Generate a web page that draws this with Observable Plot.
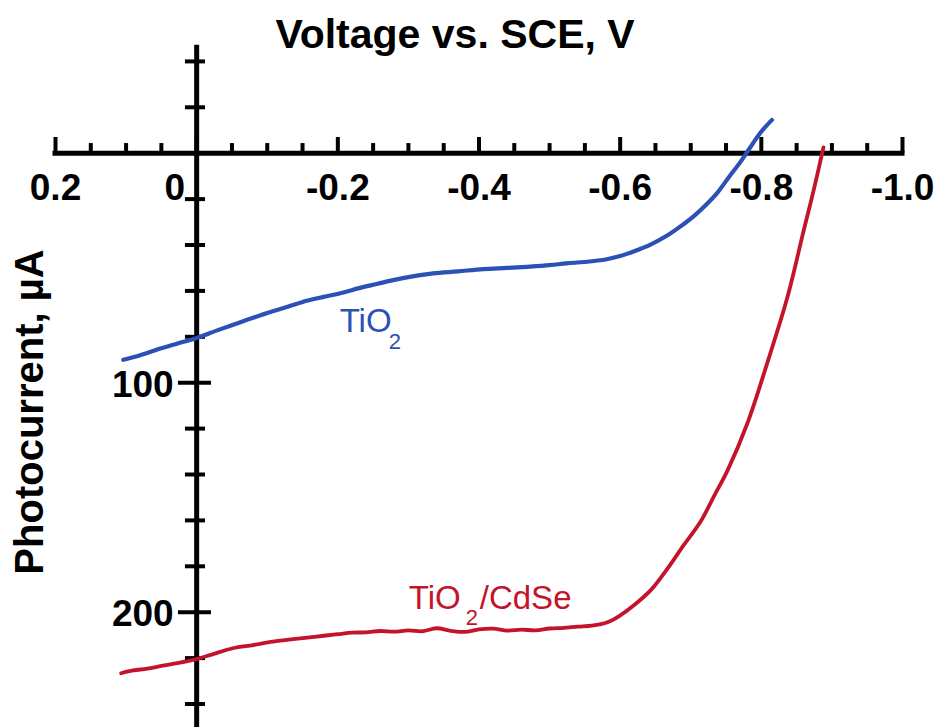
<!DOCTYPE html>
<html>
<head>
<meta charset="utf-8">
<script src="https://cdn.jsdelivr.net/npm/d3@7"></script>
<script src="https://cdn.jsdelivr.net/npm/@observablehq/plot@0.6"></script>
<style>
  html, body { margin: 0; padding: 0; background: #ffffff; }
  #chart svg { display: block; }
</style>
</head>
<body>
<div id="chart"></div>
<script>
// ---- Data ----
const tio2V = [0.104, 0.08, 0.05, 0.02, 0.0, -0.03, -0.066, -0.1, -0.13, -0.156, -0.18, -0.208, -0.23, -0.255, -0.28, -0.3, -0.335, -0.37, -0.406, -0.44, -0.468, -0.5, -0.524, -0.55, -0.581, -0.6, -0.619, -0.643, -0.666, -0.685, -0.704, -0.72, -0.737, -0.755, -0.77, -0.782, -0.799, -0.815];
const tio2I = [90, 88, 85, 82.3, 80.5, 77.1, 73.2, 69.6, 66.8, 64.3, 62.6, 60.7, 58.8, 57, 55.2, 54, 52.4, 51.5, 50.5, 50, 49.5, 48.8, 48, 47.4, 46.2, 44.8, 42.8, 39.8, 36, 32, 27.5, 23, 17.5, 10, 4, -1.5, -9, -14.5];

const cdseV = [0.107, 0.09, 0.07, 0.05, 0.03, 0.005, -0.02, -0.051, -0.08, -0.108, -0.14, -0.17, -0.2, -0.22, -0.24, -0.26, -0.28, -0.3, -0.32, -0.34, -0.36, -0.38, -0.4, -0.42, -0.44, -0.46, -0.48, -0.5, -0.52, -0.54, -0.56, -0.582, -0.6, -0.619, -0.643, -0.667, -0.69, -0.714, -0.733, -0.752, -0.78, -0.808, -0.837, -0.86, -0.874, -0.888];
const cdseI = [226.6, 225.4, 224.6, 223.4, 222.3, 220.8, 218.6, 215.7, 214.3, 212.8, 211.6, 210.6, 209.6, 208.9, 208.8, 208.2, 208.5, 207.9, 208.3, 207.0, 208.1, 208.6, 207.5, 207.2, 208.0, 207.6, 207.9, 207.1, 206.8, 206.3, 205.9, 204.4, 201.4, 197.1, 190.5, 181.0, 170.8, 160.5, 149.4, 138.3, 117.9, 91.8, 62.7, 33.7, 16.3, -2.5];

const xMajorTicks = [0.2, 0, -0.2, -0.4, -0.6, -0.8, -1.0];
const xMinorTicks = [0.15, 0.1, 0.05, -0.05, -0.1, -0.15, -0.25, -0.3, -0.35, -0.45, -0.5, -0.55, -0.65, -0.7, -0.75, -0.85, -0.9, -0.95];
const xTickLabels = ["0.2", "0", "-0.2", "-0.4", "-0.6", "-0.8", "-1.0"];
const yMajorTicks = [100, 200];
const yMinorTicks = [-40, -20, 20, 40, 60, 80, 120, 140, 160, 180, 220, 240];
const yTickLabels = ["100", "200"];

const xTitle = "Voltage vs. SCE, V";
const yTitle = "Photocurrent, µA";
const seriesNames = ["TiO", "TiO"];

// ---- Build tables ----
const tio2 = tio2V.map((v, i) => ({V: v, I: tio2I[i]}));
const cdse = cdseV.map((v, i) => ({V: v, I: cdseI[i]}));
const xLabels = xMajorTicks.map((v, i) => ({V: v, label: xTickLabels[i]}));
const yLabels = yMajorTicks.map((v, i) => ({I: v, label: yTickLabels[i]}));

const BLUE = "#2b50b6";
const RED = "#c3142b";
const FONT = "'Liberation Sans', Arial, Helvetica, sans-serif";

const plot = Plot.plot({
  width: 943,
  height: 727,
  marginTop: 0, marginRight: 0, marginBottom: 0, marginLeft: 0,
  x: {domain: [0.2, -1.0], range: [55, 902], axis: null},
  y: {domain: [0, 200], range: [152.7, 611.7], axis: null},
  style: {background: "#ffffff", fontFamily: FONT, color: "#000"},
  marks: [
    // axis lines
    Plot.ruleY([0], {x1: 0.2, x2: -1.0, stroke: "#000", strokeWidth: 5, strokeLinecap: "square"}),
    Plot.ruleX([0], {y1: -47, y2: 255, stroke: "#000", strokeWidth: 5}),
    // x ticks (upward)
    Plot.ruleX(xMajorTicks, {x: d => d, y1: 0, y2: -6.85, stroke: "#000", strokeWidth: 4}),
    Plot.ruleX(xMinorTicks, {x: d => d, y1: 0, y2: -4.2, stroke: "#000", strokeWidth: 4}),
    // y ticks (both sides)
    Plot.ruleY(yMajorTicks, {y: d => d, x1: 0.0258, x2: -0.021, stroke: "#000", strokeWidth: 4}),
    Plot.ruleY(yMinorTicks, {y: d => d, x1: 0.0159, x2: -0.0125, stroke: "#000", strokeWidth: 4}),
    // x tick labels
    Plot.text(xLabels.filter(d => d.V !== 0), {x: "V", y: 0, dy: 35, text: "label", fontSize: 37, fontWeight: "bold", fill: "#000"}),
    Plot.text(xLabels.filter(d => d.V === 0), {x: "V", y: 0, dy: 35, dx: -22, text: "label", fontSize: 37, fontWeight: "bold", fill: "#000"}),
    // y tick labels
    Plot.text(yLabels, {x: 0, y: "I", dx: -23, dy: 2, text: "label", textAnchor: "end", fontSize: 37, fontWeight: "bold", fill: "#000"}),
    // curves
    Plot.line(tio2, {x: "V", y: "I", curve: "catmull-rom", stroke: BLUE, strokeWidth: 4.2, strokeLinejoin: "round", strokeLinecap: "round"}),
    Plot.line(cdse, {x: "V", y: "I", curve: "catmull-rom", stroke: RED, strokeWidth: 3.8, strokeLinejoin: "round", strokeLinecap: "round"}),
    // series labels
    Plot.text([{V: -0.2026, I: 77.7}], {x: "V", y: "I", text: () => seriesNames[0], textAnchor: "start", lineAnchor: "bottom", fontSize: 33, fill: BLUE}),
    Plot.text([{V: -0.2026, I: 77.7}], {x: "V", y: "I", text: () => "2", dx: 49, dy: 17, textAnchor: "start", lineAnchor: "bottom", fontSize: 22, fill: BLUE}),
    Plot.text([{V: -0.3005, I: 198.6}], {x: "V", y: "I", text: () => seriesNames[1], textAnchor: "start", lineAnchor: "bottom", fontSize: 33, fill: RED}),
    Plot.text([{V: -0.3005, I: 198.6}], {x: "V", y: "I", text: () => "2", dx: 57, dy: 16, textAnchor: "start", lineAnchor: "bottom", fontSize: 22, fill: RED}),
    Plot.text([{V: -0.3005, I: 198.6}], {x: "V", y: "I", text: () => "/CdSe", dx: 71, textAnchor: "start", lineAnchor: "bottom", fontSize: 33, fill: RED}),
    // axis titles
    Plot.text([xTitle], {frameAnchor: "top", dx: -17, dy: 34, lineAnchor: "middle", text: d => d, fontSize: 41, fontWeight: "bold", fill: "#000"}),
    Plot.text([yTitle], {frameAnchor: "left", rotate: -90, textAnchor: "middle", dx: 30, dy: 48, text: d => d, fontSize: 40, fontWeight: "bold", fill: "#000"})
  ]
});

document.getElementById("chart").appendChild(plot);
</script>
</body>
</html>
